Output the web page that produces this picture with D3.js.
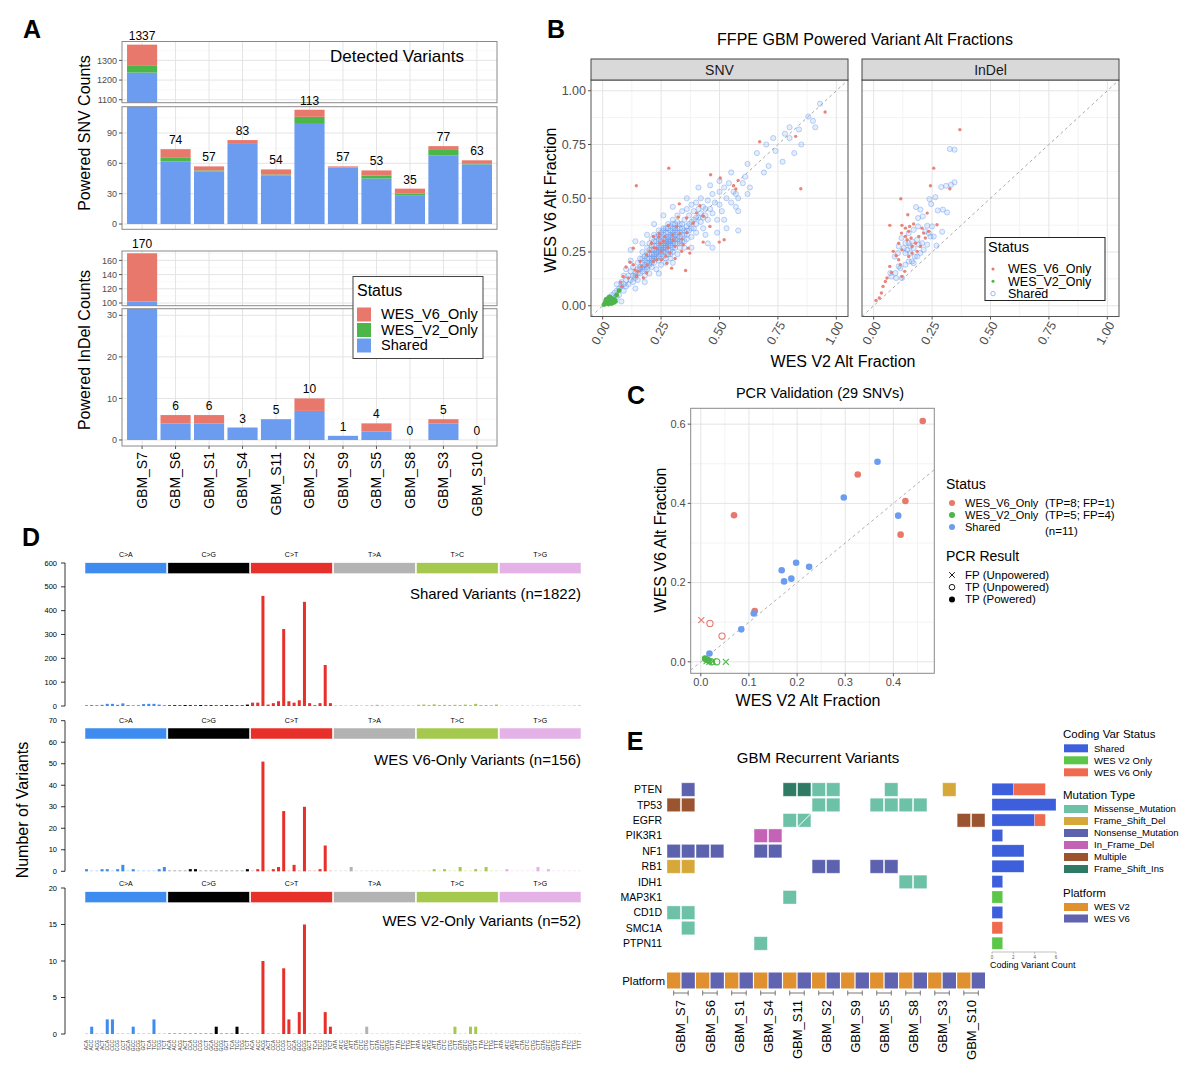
<!DOCTYPE html>
<html>
<head>
<meta charset="utf-8">
<script src="https://cdn.jsdelivr.net/npm/d3@7"></script>
<style>
  body { margin: 0; background: #fff; }
  svg { display: block; font-family: "Liberation Sans", Arial, sans-serif; }
</style>
</head>
<body>
<svg id="fig" width="1200" height="1087"></svg>
<script>
/* ── Panel A: powered variant counts per sample ── */
const samples = ["GBM_S7","GBM_S6","GBM_S1","GBM_S4","GBM_S11","GBM_S2","GBM_S9","GBM_S5","GBM_S8","GBM_S3","GBM_S10"];
const snvShared = [1238, 62, 52, 80, 48, 99, 56, 45, 28, 68, 59];
const snvV2Only = [34, 4, 1, 0, 1, 7, 0, 3, 2, 6, 1];
const snvV6Only = [108, 8, 4, 3, 5, 7, 1, 5, 5, 3, 3];
const snvLabels = [1337, 74, 57, 83, 54, 113, 57, 53, 35, 77, 63];
const indelShared = [102, 4, 4, 3, 5, 7, 1, 2, 0, 4, 0];
const indelV2Only = [0, 0, 0, 0, 0, 0, 0, 0, 0, 0, 0];
const indelV6Only = [68, 2, 2, 0, 0, 3, 0, 2, 0, 1, 0];
const indelLabels = [170, 6, 6, 3, 5, 10, 1, 4, 0, 5, 0];
const statusKeys = ["WES_V6_Only", "WES_V2_Only", "Shared"];
const statusColors = ["#e8786c", "#4cb648", "#6c9cf0"];

/* ── Panel B: alt fractions (WES V2 x, WES V6 y) ── */
const snvV6Pts = [[0.952,0.901],[0.826,0.788],[0.672,0.763],[0.848,0.544],[0.283,0.640],[0.144,0.558],[0.462,0.609],[0.503,0.594],
  [0.580,0.583],[0.560,0.558],[0.570,0.543],[0.328,0.474],[0.416,0.465],[0.499,0.296],[0.520,0.307],[0.430,0.296],[0.355,0.164],
  [0.242,0.335],[0.323,0.412],[0.359,0.408],[0.281,0.374],[0.217,0.322],[0.202,0.253],[0.188,0.237],[0.160,0.206],[0.131,0.268],
  [0.117,0.202],[0.100,0.180],[0.077,0.110],[0.088,0.136],[0.110,0.129],[0.138,0.167],[0.174,0.129],[0.167,0.183],[0.217,0.206],
  [0.252,0.214],[0.288,0.245],[0.302,0.307],[0.330,0.338],[0.345,0.284],[0.366,0.268],[0.373,0.245],[0.295,0.175],[0.274,0.198],
  [0.245,0.291],[0.266,0.322],[0.316,0.369],[0.387,0.384],[0.402,0.431],[0.430,0.416],[0.459,0.369],[0.231,0.268],[0.209,0.291],
  [0.188,0.152],[0.145,0.136],[0.081,0.090],[0.131,0.191],[0.338,0.253],[0.309,0.276],[0.231,0.214],[0.26,0.30],[0.28,0.27],
  [0.30,0.33],[0.25,0.25],[0.22,0.27],[0.34,0.31],[0.27,0.23],[0.31,0.22],[0.19,0.19],[0.15,0.16],[0.36,0.34],[0.24,0.32]];
const snvV2Pts = [[0.01,0.01],[0.012,0.02],[0.015,0.015],[0.018,0.025],[0.02,0.03],[0.022,0.02],[0.025,0.035],[0.028,0.025],
  [0.03,0.03],[0.03,0.015],[0.032,0.04],[0.035,0.02],[0.035,0.035],[0.038,0.028],[0.04,0.018],[0.042,0.032],[0.045,0.025],
  [0.048,0.015],[0.02,0.01],[0.025,0.008],[0.015,0.03],[0.05,0.03],[0.055,0.02],[0.06,0.05],[0.07,0.07],[0.005,0.005],
  [0.028,0.04],[0.038,0.01]];
const snvSharedPts = [[0.04,0.05],[0.05,0.03],[0.06,0.07],[0.07,0.05],[0.08,0.09],[0.08,0.11],[0.09,0.07],[0.10,0.12],[0.10,0.09],
  [0.11,0.14],[0.11,0.10],[0.12,0.16],[0.12,0.12],[0.13,0.11],[0.13,0.18],[0.14,0.15],[0.14,0.13],[0.15,0.20],[0.15,0.17],[0.15,0.12],
  [0.16,0.22],[0.16,0.18],[0.16,0.15],[0.17,0.25],[0.17,0.20],[0.17,0.16],[0.18,0.23],[0.18,0.19],[0.18,0.14],[0.19,0.27],[0.19,0.22],
  [0.19,0.17],[0.20,0.29],[0.20,0.24],[0.20,0.20],[0.20,0.15],[0.21,0.31],[0.21,0.26],[0.21,0.22],[0.21,0.18],[0.22,0.33],[0.22,0.28],
  [0.22,0.24],[0.22,0.20],[0.23,0.30],[0.23,0.26],[0.23,0.22],[0.23,0.17],[0.24,0.35],[0.24,0.29],[0.24,0.25],[0.24,0.21],[0.25,0.32],
  [0.25,0.28],[0.25,0.24],[0.25,0.19],[0.26,0.36],[0.26,0.31],[0.26,0.27],[0.26,0.23],[0.27,0.34],[0.27,0.29],[0.27,0.25],[0.27,0.20],
  [0.28,0.38],[0.28,0.32],[0.28,0.28],[0.28,0.24],[0.29,0.35],[0.29,0.30],[0.29,0.26],[0.29,0.22],[0.30,0.40],[0.30,0.33],[0.30,0.29],
  [0.30,0.25],[0.31,0.36],[0.31,0.31],[0.31,0.27],[0.32,0.42],[0.32,0.34],[0.32,0.29],[0.32,0.24],[0.33,0.38],[0.33,0.32],[0.33,0.27],
  [0.34,0.44],[0.34,0.36],[0.34,0.30],[0.35,0.40],[0.35,0.33],[0.35,0.27],[0.36,0.45],[0.36,0.37],[0.36,0.31],[0.37,0.42],[0.37,0.35],
  [0.38,0.47],[0.38,0.39],[0.38,0.32],[0.39,0.44],[0.39,0.36],[0.40,0.48],[0.40,0.41],[0.40,0.34],[0.41,0.45],[0.42,0.50],[0.42,0.39],
  [0.43,0.46],[0.43,0.36],[0.44,0.42],[0.45,0.49],[0.45,0.40],[0.46,0.45],[0.47,0.52],[0.47,0.43],[0.48,0.48],[0.49,0.40],[0.50,0.53],
  [0.50,0.47],[0.51,0.44],[0.52,0.55],[0.53,0.50],[0.54,0.57],[0.55,0.48],[0.56,0.53],[0.57,0.46],[0.58,0.50],[0.60,0.57],[0.61,0.60],
  [0.62,0.66],[0.63,0.55],[0.66,0.71],[0.69,0.62],[0.70,0.75],[0.71,0.65],[0.73,0.78],[0.74,0.72],[0.77,0.67],[0.78,0.80],[0.80,0.83],
  [0.80,0.78],[0.82,0.71],[0.84,0.82],[0.85,0.75],[0.88,0.88],[0.90,0.86],[0.91,0.83],[0.93,0.94],[0.02,0.03],[0.03,0.04],[0.05,0.06],
  [0.06,0.04],[0.07,0.08],[0.09,0.10],[0.03,0.02],[0.26,0.29],[0.27,0.31],[0.28,0.30],[0.25,0.26],[0.29,0.28],[0.24,0.27],[0.23,0.28],
  [0.30,0.31],[0.26,0.25],[0.28,0.26],[0.27,0.27],[0.31,0.33],[0.22,0.26],[0.25,0.30],[0.29,0.32],[0.32,0.31],[0.24,0.23],[0.21,0.24],
  [0.33,0.34],[0.19,0.20],[0.12,0.26],[0.14,0.30],[0.45,0.29],[0.49,0.34],[0.58,0.35],[0.47,0.27],[0.19,0.33],[0.58,0.44],
  [0.20,0.22],[0.21,0.20],[0.22,0.22],[0.23,0.24],[0.24,0.26],[0.25,0.27],[0.26,0.28],[0.27,0.30],[0.28,0.31],[0.29,0.33],[0.30,0.34],
  [0.31,0.35],[0.32,0.36],[0.33,0.36],[0.34,0.38],[0.24,0.31],[0.25,0.34],[0.26,0.33],[0.27,0.36],[0.28,0.34],[0.29,0.37],[0.30,0.36],
  [0.31,0.38],[0.32,0.39],[0.23,0.25],[0.22,0.23],[0.21,0.21],[0.20,0.19],[0.19,0.18],[0.18,0.17],[0.17,0.18],[0.16,0.17],[0.15,0.15],
  [0.14,0.14],[0.13,0.14],[0.26,0.26],[0.27,0.28],[0.28,0.29],[0.29,0.29],[0.30,0.30],[0.31,0.29],[0.32,0.32],[0.33,0.30],[0.34,0.33],
  [0.35,0.35],[0.36,0.35],[0.37,0.38],[0.38,0.36],[0.39,0.40],[0.40,0.38],[0.41,0.41],[0.42,0.43],[0.43,0.41],[0.44,0.45],[0.25,0.22],
  [0.27,0.22],[0.29,0.24],[0.30,0.27],[0.33,0.29],[0.35,0.30],[0.36,0.33],[0.22,0.30],[0.21,0.28],[0.20,0.26],[0.19,0.24],[0.18,0.21],
  [0.17,0.22],[0.24,0.33],[0.23,0.32],[0.26,0.35],[0.28,0.36],[0.30,0.38],[0.06,0.10],[0.09,0.14],[0.10,0.17],[0.12,0.21],[0.08,0.02],
  [0.14,0.08],[0.18,0.11],[0.24,0.15],[0.30,0.20],[0.38,0.27],[0.44,0.33],[0.52,0.40],[0.53,0.36],[0.41,0.55],[0.36,0.50],[0.30,0.46],
  [0.26,0.42],[0.22,0.38],[0.17,0.29],[0.46,0.56],[0.55,0.62],[0.50,0.58],[0.57,0.52],[0.62,0.52]];
const indelV6Pts = [[0.369,0.819],[0.257,0.640],[0.243,0.558],[0.326,0.544],[0.116,0.498],[0.069,0.374],[0.146,0.423],[0.121,0.374],
  [0.154,0.369],[0.171,0.380],[0.207,0.361],[0.229,0.431],[0.271,0.377],[0.236,0.346],[0.193,0.322],[0.150,0.346],[0.136,0.322],
  [0.107,0.291],[0.084,0.253],[0.121,0.260],[0.164,0.276],[0.186,0.253],[0.150,0.229],[0.107,0.214],[0.114,0.191],[0.133,0.160],
  [0.121,0.136],[0.069,0.183],[0.076,0.155],[0.057,0.129],[0.050,0.113],[0.040,0.090],[0.033,0.059],[0.024,0.036],[0.010,0.025],
  [0.179,0.291],[0.214,0.338],[0.200,0.276],[0.143,0.307],[0.164,0.245],[0.096,0.233],[0.221,0.315],[0.136,0.361],[0.119,0.338],
  [0.160,0.315]];
const indelSharedPts = [[0.326,0.729],[0.346,0.726],[0.346,0.574],[0.310,0.558],[0.289,0.552],[0.331,0.563],[0.264,0.505],[0.239,0.496],
  [0.246,0.473],[0.181,0.459],[0.200,0.447],[0.274,0.443],[0.296,0.447],[0.314,0.434],[0.190,0.408],[0.210,0.416],[0.229,0.372],
  [0.250,0.369],[0.236,0.338],[0.221,0.346],[0.190,0.369],[0.171,0.353],[0.150,0.338],[0.164,0.299],[0.186,0.307],[0.136,0.291],
  [0.157,0.276],[0.119,0.315],[0.129,0.268],[0.107,0.276],[0.104,0.245],[0.090,0.229],[0.136,0.245],[0.150,0.206],[0.171,0.198],
  [0.186,0.229],[0.200,0.245],[0.214,0.260],[0.229,0.284],[0.243,0.322],[0.257,0.322],[0.269,0.279],[0.293,0.344],[0.093,0.152],
  [0.076,0.136],[0.071,0.152],[0.114,0.175],[0.136,0.191],[0.121,0.129],[0.096,0.129],[0.107,0.183],[0.164,0.206],[0.176,0.229],
  [0.207,0.291],[0.143,0.260],[0.157,0.245],[0.171,0.268],[0.193,0.284],[0.150,0.291]];

/* ── Panel C: PCR validation, [v2 AF, v6 AF, status, PCR result] ── */
const pcrPoints = [
  [0.461,0.608,"WES_V6_Only","TP (Powered)"],[0.326,0.473,"WES_V6_Only","TP (Powered)"],
  [0.425,0.406,"WES_V6_Only","TP (Powered)"],[0.415,0.321,"WES_V6_Only","TP (Powered)"],
  [0.069,0.370,"WES_V6_Only","TP (Powered)"],[0.112,0.128,"WES_V6_Only","TP (Powered)"],
  [0.019,0.097,"WES_V6_Only","TP (Unpowered)"],[0.044,0.065,"WES_V6_Only","TP (Unpowered)"],
  [0.001,0.105,"WES_V6_Only","FP (Unpowered)"],
  [0.367,0.505,"Shared","TP (Powered)"],[0.297,0.415,"Shared","TP (Powered)"],[0.410,0.369,"Shared","TP (Powered)"],
  [0.198,0.250,"Shared","TP (Powered)"],[0.225,0.240,"Shared","TP (Powered)"],[0.168,0.231,"Shared","TP (Powered)"],
  [0.173,0.203,"Shared","TP (Powered)"],[0.188,0.210,"Shared","TP (Powered)"],[0.110,0.122,"Shared","TP (Powered)"],
  [0.084,0.082,"Shared","TP (Powered)"],[0.018,0.021,"Shared","TP (Powered)"],
  [0.009,0.008,"WES_V2_Only","TP (Powered)"],[0.013,0.005,"WES_V2_Only","TP (Powered)"],
  [0.016,0.003,"WES_V2_Only","TP (Powered)"],[0.022,0.000,"WES_V2_Only","TP (Unpowered)"],
  [0.033,0.000,"WES_V2_Only","TP (Unpowered)"],[0.052,0.000,"WES_V2_Only","FP (Unpowered)"],
  [0.018,0.000,"WES_V2_Only","FP (Unpowered)"],[0.025,0.001,"WES_V2_Only","FP (Unpowered)"],
  [0.012,0.002,"WES_V2_Only","FP (Unpowered)"]];
const pcrResults = ["FP (Unpowered)", "TP (Unpowered)", "TP (Powered)"];
const pcrStatusNotes = ["(TP=8; FP=1)", "(TP=5; FP=4)", "(n=11)"];

/* ── Panel D: trinucleotide spectra (96 contexts, 16 per class) ── */
const mutClasses = ["C>A","C>G","C>T","T>A","T>C","T>G"];
const mutClassColors = ["#3e8cf0","#000000","#e8302a","#b3b3b3","#a5c94f","#e4b2e6"];
const flank5 = ["A","A","A","A","C","C","C","C","G","G","G","G","T","T","T","T"];
const flank3 = ["A","C","G","T","A","C","G","T","A","C","G","T","A","C","G","T"];
const sharedSpectrum = [
  3,4,3,5,9,9,5,11,4,2,3,8,9,9,6,3,
  2,3,2,4,3,2,4,2,3,2,2,3,3,2,2,6,
  14,14,462,6,12,20,323,20,14,24,437,12,3,12,172,12,
  1,2,1,2,2,1,2,3,5,2,1,2,1,2,2,1,
  5,6,4,7,4,5,4,5,4,6,3,9,4,4,3,6,
  1,1,2,1,2,1,1,1,2,1,1,1,2,1,2,3];
const v6OnlySpectrum = [
  1,0,0,1,1,0,1,3,0,1,0,0,0,0,1,2,
  0,0,0,0,1,1,0,0,0,0,0,0,0,0,0,1,
  0,1,51,0,1,2,28,0,3,0,30,0,0,1,12,0,
  0,0,0,2,0,0,0,0,0,0,0,0,0,0,0,0,
  0,0,0,1,0,1,0,0,2,0,0,1,0,2,0,0,
  0,1,0,0,0,0,0,2,0,1,0,0,0,0,0,0];
const v2OnlySpectrum = [
  0,1,0,0,2,2,0,0,0,1,0,0,0,2,0,0,
  0,0,0,0,0,0,0,0,0,1,0,0,0,1,0,0,
  0,0,10,0,0,0,9,2,0,3,15,0,0,0,3,1,
  0,0,0,0,0,0,1,0,0,0,0,0,0,0,0,0,
  0,0,0,0,0,0,0,1,0,0,1,1,0,0,0,0,
  0,0,0,0,0,0,0,0,0,0,0,0,0,0,0,0];

/* ── Panel E: recurrent variant tiles ── */
const genes = ["PTEN","TP53","EGFR","PIK3R1","NF1","RB1","IDH1","MAP3K1","CD1D","SMC1A","PTPN11"];
const mutTypes = ["Missense_Mutation","Frame_Shift_Del","Nonsense_Mutation","In_Frame_Del","Multiple","Frame_Shift_Ins"];
const mutColors = ["#6cc1a6","#d6a83a","#5d62ae","#c462b5","#9b5430","#2f7a64"];
const platforms = ["WES V2","WES V6"];
const platformColors = ["#e0902e","#5f63b0"];
// gene, sample, platform index (0 = V2, 1 = V6), mutation type
const variantCells = [
  ["PTEN","GBM_S7",1,"Nonsense_Mutation"],["PTEN","GBM_S11",0,"Frame_Shift_Ins"],["PTEN","GBM_S11",1,"Frame_Shift_Ins"],
  ["PTEN","GBM_S2",0,"Missense_Mutation"],["PTEN","GBM_S2",1,"Missense_Mutation"],["PTEN","GBM_S5",1,"Missense_Mutation"],
  ["PTEN","GBM_S3",1,"Frame_Shift_Del"],
  ["TP53","GBM_S7",0,"Multiple"],["TP53","GBM_S7",1,"Multiple"],["TP53","GBM_S2",0,"Missense_Mutation"],
  ["TP53","GBM_S2",1,"Missense_Mutation"],["TP53","GBM_S5",0,"Missense_Mutation"],["TP53","GBM_S5",1,"Missense_Mutation"],
  ["TP53","GBM_S8",0,"Missense_Mutation"],["TP53","GBM_S8",1,"Missense_Mutation"],
  ["EGFR","GBM_S11",0,"Missense_Mutation"],["EGFR","GBM_S11",1,"Missense_Mutation"],
  ["EGFR","GBM_S10",0,"Multiple"],["EGFR","GBM_S10",1,"Multiple"],
  ["PIK3R1","GBM_S4",0,"In_Frame_Del"],["PIK3R1","GBM_S4",1,"In_Frame_Del"],
  ["NF1","GBM_S7",0,"Nonsense_Mutation"],["NF1","GBM_S7",1,"Nonsense_Mutation"],["NF1","GBM_S6",0,"Nonsense_Mutation"],
  ["NF1","GBM_S6",1,"Nonsense_Mutation"],["NF1","GBM_S4",0,"Nonsense_Mutation"],["NF1","GBM_S4",1,"Nonsense_Mutation"],
  ["RB1","GBM_S7",0,"Frame_Shift_Del"],["RB1","GBM_S7",1,"Frame_Shift_Del"],["RB1","GBM_S2",0,"Nonsense_Mutation"],
  ["RB1","GBM_S2",1,"Nonsense_Mutation"],["RB1","GBM_S5",0,"Nonsense_Mutation"],["RB1","GBM_S5",1,"Nonsense_Mutation"],
  ["IDH1","GBM_S8",0,"Missense_Mutation"],["IDH1","GBM_S8",1,"Missense_Mutation"],
  ["MAP3K1","GBM_S11",0,"Missense_Mutation"],
  ["CD1D","GBM_S7",0,"Missense_Mutation"],["CD1D","GBM_S7",1,"Missense_Mutation"],
  ["SMC1A","GBM_S7",1,"Missense_Mutation"],
  ["PTPN11","GBM_S4",0,"Missense_Mutation"]];
const splitCells = [["EGFR","GBM_S11",1]];
const codingShared = [2, 6, 4, 1, 3, 3, 1, 0, 1, 0, 0];
const codingV2Only = [0, 0, 0, 0, 0, 0, 0, 1, 0, 0, 1];
const codingV6Only = [3, 0, 1, 0, 0, 0, 0, 0, 0, 1, 0];
const codingStatus = ["Shared", "WES V2 Only", "WES V6 Only"];
const codingColors = ["#3d5fdc", "#5cc64a", "#ef6a4f"];
const countTicks = [0, 2, 4, 6];

const svg = d3.select("#fig");

function label(g, x, y, s, o = {}) {
  const t = g.append("text").attr("x", x).attr("y", y).text(s)
    .attr("font-size", o.size || 12).attr("fill", o.fill || "#000")
    .attr("text-anchor", o.anchor || "start");
  if (o.weight) t.attr("font-weight", o.weight);
  if (o.dy) t.attr("dy", o.dy);
  if (o.rotate) t.attr("transform", `rotate(${o.rotate},${x},${y})`);
  return t;
}

// panel letters
[["A",32,38],["B",556,38],["C",636,404],["D",31,546],["E",635,750]].forEach(([s,x,y]) =>
  label(svg, x, y, s, {size: 25, weight: "bold", anchor: "middle"}));

/* ================= Panel A ================= */
const xA = d3.scaleBand().domain(samples).range([122, 497]).paddingInner(0.1).paddingOuter(0.15);
const keyColor = {shared: statusColors[2], v2: statusColors[1], v6: statusColors[0]};
const stackA = d3.stack().keys(["shared", "v2", "v6"]);

function rowsOf(sh, v2, v6) {
  return samples.map((s, i) => ({sample: s, shared: sh[i], v2: v2[i], v6: v6[i]}));
}

function facetA(y, ticks, minor, layers, id) {
  const g = svg.append("g");
  const [xl, xr] = xA.range(), [yb, yt] = y.range();
  g.selectAll(null).data(minor).join("line")
    .attr("x1", xl).attr("x2", xr).attr("y1", d => y(d)).attr("y2", d => y(d))
    .attr("stroke", "#f3f3f3").attr("stroke-width", 0.6);
  g.selectAll(null).data(ticks).join("line")
    .attr("x1", xl).attr("x2", xr).attr("y1", d => y(d)).attr("y2", d => y(d))
    .attr("stroke", "#e4e4e4").attr("stroke-width", 1);
  g.selectAll(null).data(samples).join("line")
    .attr("x1", d => xA(d) + xA.bandwidth() / 2).attr("x2", d => xA(d) + xA.bandwidth() / 2)
    .attr("y1", yt).attr("y2", yb).attr("stroke", "#e4e4e4");
  g.append("clipPath").attr("id", id).append("rect")
    .attr("x", xl).attr("y", yt).attr("width", xr - xl).attr("height", yb - yt);
  const bars = g.append("g").attr("clip-path", `url(#${id})`);
  layers.forEach(layer => {
    bars.selectAll(null).data(layer).join("rect")
      .attr("x", d => xA(d.data.sample)).attr("width", xA.bandwidth())
      .attr("y", d => y(d[1])).attr("height", d => Math.max(0, y(d[0]) - y(d[1])))
      .attr("fill", keyColor[layer.key]);
  });
  g.append("rect").attr("x", xl).attr("y", yt).attr("width", xr - xl).attr("height", yb - yt)
    .attr("fill", "none").attr("stroke", "#8a8a8a").attr("stroke-width", 1);
  g.selectAll(null).data(ticks).join("line")
    .attr("x1", xl - 3).attr("x2", xl).attr("y1", d => y(d)).attr("y2", d => y(d)).attr("stroke", "#555");
  g.selectAll(null).data(ticks).join("text")
    .attr("x", xl - 5).attr("y", d => y(d)).attr("dy", "0.35em").attr("text-anchor", "end")
    .attr("font-size", 9).attr("fill", "#4d4d4d").text(d => d);
}

function totalsA(layers, labels, lower, upper) {
  const top = layers[layers.length - 1];
  svg.append("g").selectAll("text").data(top).join("text")
    .attr("x", d => xA(d.data.sample) + xA.bandwidth() / 2)
    .attr("y", d => (d[1] > lower.domain()[1] ? upper(d[1]) : lower(d[1])) - 5)
    .attr("text-anchor", "middle").attr("font-size", 12).text((d, i) => labels[i]);
}

const snvLayers = stackA(rowsOf(snvShared, snvV2Only, snvV6Only));
const snvUpper = d3.scaleLinear().domain([1085, 1396]).range([102.7, 41.5]);
const snvLower = d3.scaleLinear().domain([-5.2, 116]).range([229.3, 106.7]);
facetA(snvUpper, [1100, 1200, 1300], [1150, 1250, 1350], snvLayers, "clipSnvU");
facetA(snvLower, [0, 30, 60, 90], [15, 45, 75, 105], snvLayers, "clipSnvL");
totalsA(snvLayers, snvLabels, snvLower, snvUpper);

const indelLayers = stackA(rowsOf(indelShared, indelV2Only, indelV6Only));
const indelUpper = d3.scaleLinear().domain([96.2, 173.2]).range([305.7, 251]);
const indelLower = d3.scaleLinear().domain([-1.45, 31.6]).range([446, 308.7]);
facetA(indelUpper, [100, 120, 140, 160], [110, 130, 150, 170], indelLayers, "clipIndU");
facetA(indelLower, [0, 10, 20, 30], [5, 15, 25], indelLayers, "clipIndL");
totalsA(indelLayers, indelLabels, indelLower, indelUpper);

label(svg, 397, 62, "Detected Variants", {size: 17, anchor: "middle"});
label(svg, 90, 133, "Powered SNV Counts", {size: 16, anchor: "middle", rotate: -90});
label(svg, 90, 350, "Powered InDel Counts", {size: 16, anchor: "middle", rotate: -90});

// sample ticks and names under the InDel panel
svg.append("g").selectAll("line").data(samples).join("line")
  .attr("x1", d => xA(d) + xA.bandwidth() / 2).attr("x2", d => xA(d) + xA.bandwidth() / 2)
  .attr("y1", 446).attr("y2", 449).attr("stroke", "#555");
svg.append("g").selectAll("text").data(samples).join("text")
  .attr("transform", d => `translate(${xA(d) + xA.bandwidth() / 2},452) rotate(-90)`)
  .attr("dy", "0.35em").attr("text-anchor", "end").attr("font-size", 14).text(d => d);

// legend A
{
  const g = svg.append("g");
  g.append("rect").attr("x", 353).attr("y", 276.5).attr("width", 130).attr("height", 82)
    .attr("fill", "#fff").attr("stroke", "#444");
  label(g, 357, 296, "Status", {size: 16});
  statusKeys.forEach((k, i) => {
    g.append("rect").attr("x", 357).attr("y", 307.5 + i * 15.5).attr("width", 14).attr("height", 14)
      .attr("fill", statusColors[i]);
    label(g, 381, 319 + i * 15.5, k, {size: 14.5});
  });
}

/* ================= Panel B ================= */
const yB = d3.scaleLinear().domain([-0.05, 1.05]).range([316.5, 80]);
const afTicks = [0, 0.25, 0.5, 0.75, 1];
const afMinor = [0.125, 0.375, 0.625, 0.875];

function scatterB(xs, strip, id, layers, showY) {
  const g = svg.append("g");
  const [xl, xr] = xs.range(), [yb, yt] = yB.range();
  afMinor.forEach(v => {
    g.append("line").attr("x1", xl).attr("x2", xr).attr("y1", yB(v)).attr("y2", yB(v)).attr("stroke", "#f3f3f3");
    g.append("line").attr("x1", xs(v)).attr("x2", xs(v)).attr("y1", yt).attr("y2", yb).attr("stroke", "#f3f3f3");
  });
  afTicks.forEach(v => {
    g.append("line").attr("x1", xl).attr("x2", xr).attr("y1", yB(v)).attr("y2", yB(v)).attr("stroke", "#e4e4e4");
    g.append("line").attr("x1", xs(v)).attr("x2", xs(v)).attr("y1", yt).attr("y2", yb).attr("stroke", "#e4e4e4");
  });
  g.append("clipPath").attr("id", id).append("rect")
    .attr("x", xl).attr("y", yt).attr("width", xr - xl).attr("height", yb - yt);
  const plot = g.append("g").attr("clip-path", `url(#${id})`);
  plot.append("line").attr("x1", xs(-0.05)).attr("y1", yB(-0.05)).attr("x2", xs(1.05)).attr("y2", yB(1.05))
    .attr("stroke", "#a8a8a8").attr("stroke-dasharray", "3,3");
  layers.forEach(({pts, kind}) => {
    const c = plot.append("g").selectAll("circle").data(pts).join("circle")
      .attr("cx", d => xs(d[0])).attr("cy", d => yB(d[1]));
    if (kind === "shared") c.attr("r", 2.6).attr("fill", statusColors[2]).attr("fill-opacity", 0.18)
      .attr("stroke", statusColors[2]).attr("stroke-opacity", 0.55).attr("stroke-width", 0.8);
    else if (kind === "v6") c.attr("r", 1.7).attr("fill", statusColors[0]).attr("fill-opacity", 0.9);
    else c.attr("r", 2.4).attr("fill", statusColors[1]);
  });
  g.append("rect").attr("x", xl).attr("y", yt).attr("width", xr - xl).attr("height", yb - yt)
    .attr("fill", "none").attr("stroke", "#555");
  g.append("rect").attr("x", xl).attr("y", 59).attr("width", xr - xl).attr("height", yt - 59)
    .attr("fill", "#d9d9d9").attr("stroke", "#444");
  label(g, (xl + xr) / 2, 75, strip, {size: 14, anchor: "middle", fill: "#1a1a1a"});
  afTicks.forEach(v => {
    g.append("line").attr("x1", xs(v)).attr("x2", xs(v)).attr("y1", yb).attr("y2", yb + 3).attr("stroke", "#555");
    g.append("text").attr("transform", `translate(${xs(v) + 4},${yb + 6}) rotate(-60)`)
      .attr("dy", "0.35em").attr("text-anchor", "end").attr("font-size", 12.5).attr("fill", "#4d4d4d")
      .text(d3.format(".2f")(v));
    if (showY) {
      g.append("line").attr("x1", xl - 3).attr("x2", xl).attr("y1", yB(v)).attr("y2", yB(v)).attr("stroke", "#555");
      g.append("text").attr("x", xl - 5).attr("y", yB(v)).attr("dy", "0.35em").attr("text-anchor", "end")
        .attr("font-size", 12.5).attr("fill", "#4d4d4d").text(d3.format(".2f")(v));
    }
  });
}

const xSnv = d3.scaleLinear().domain([-0.05, 1.05]).range([591, 848]);
const xInd = d3.scaleLinear().domain([-0.05, 1.05]).range([862, 1119]);
scatterB(xSnv, "SNV", "clipB1",
  [{pts: snvSharedPts, kind: "shared"}, {pts: snvV6Pts, kind: "v6"}, {pts: snvV2Pts, kind: "v2"}], true);
scatterB(xInd, "InDel", "clipB2",
  [{pts: indelSharedPts, kind: "shared"}, {pts: indelV6Pts, kind: "v6"}], false);

label(svg, 865, 45, "FFPE GBM Powered Variant Alt Fractions", {size: 16, anchor: "middle"});
label(svg, 556, 200, "WES V6 Alt Fraction", {size: 16, anchor: "middle", rotate: -90});
label(svg, 843, 367, "WES V2 Alt Fraction", {size: 16, anchor: "middle"});

// legend B
{
  const g = svg.append("g");
  g.append("rect").attr("x", 985).attr("y", 237.5).attr("width", 120).attr("height", 63)
    .attr("fill", "#fff").attr("stroke", "#222");
  label(g, 988, 252, "Status", {size: 14.5});
  const kinds = ["v6", "v2", "shared"];
  kinds.forEach((k, i) => {
    const cy = 269 + i * 12.3;
    const c = g.append("circle").attr("cx", 993).attr("cy", cy);
    if (k === "shared") c.attr("r", 2.2).attr("fill", "none").attr("stroke", statusColors[2]).attr("stroke-opacity", 0.7);
    else c.attr("r", 1.5).attr("fill", statusColors[i]);
    label(g, 1008, cy, statusKeys[i], {size: 12.5, dy: "0.35em"});
  });
}

/* ================= Panel C ================= */
{
  const xC = d3.scaleLinear().domain([-0.021, 0.485]).range([690.7, 934.3]);
  const yC = d3.scaleLinear().domain([-0.029, 0.64]).range([673.3, 408.3]);
  const g = svg.append("g");
  const [xl, xr] = xC.range(), [yb, yt] = yC.range();
  const xt = [0, 0.1, 0.2, 0.3, 0.4], yt2 = [0, 0.2, 0.4, 0.6];
  [0.05, 0.15, 0.25, 0.35, 0.45].forEach(v =>
    g.append("line").attr("x1", xC(v)).attr("x2", xC(v)).attr("y1", yt).attr("y2", yb).attr("stroke", "#f3f3f3"));
  [0.1, 0.3, 0.5].forEach(v =>
    g.append("line").attr("x1", xl).attr("x2", xr).attr("y1", yC(v)).attr("y2", yC(v)).attr("stroke", "#f3f3f3"));
  xt.forEach(v => g.append("line").attr("x1", xC(v)).attr("x2", xC(v)).attr("y1", yt).attr("y2", yb).attr("stroke", "#e4e4e4"));
  yt2.forEach(v => g.append("line").attr("x1", xl).attr("x2", xr).attr("y1", yC(v)).attr("y2", yC(v)).attr("stroke", "#e4e4e4"));
  g.append("clipPath").attr("id", "clipC").append("rect").attr("x", xl).attr("y", yt).attr("width", xr - xl).attr("height", yb - yt);
  const plot = g.append("g").attr("clip-path", "url(#clipC)");
  plot.append("line").attr("x1", xC(-0.05)).attr("y1", yC(-0.05)).attr("x2", xC(0.7)).attr("y2", yC(0.7))
    .attr("stroke", "#b0b0b0").attr("stroke-dasharray", "3,3");
  const col = s => statusColors[statusKeys.indexOf(s)];
  const cross = a => `M${-a},${-a}L${a},${a}M${-a},${a}L${a},${-a}`;
  pcrPoints.forEach(([vx, vy, st, res]) => {
    const px = xC(vx), py = yC(vy);
    if (res === "TP (Powered)") plot.append("circle").attr("cx", px).attr("cy", py).attr("r", 3.3).attr("fill", col(st));
    else if (res === "TP (Unpowered)") plot.append("circle").attr("cx", px).attr("cy", py).attr("r", 3.1)
      .attr("fill", "none").attr("stroke", col(st)).attr("stroke-width", 1.1);
    else plot.append("path").attr("transform", `translate(${px},${py})`).attr("d", cross(3))
      .attr("stroke", col(st)).attr("stroke-width", 1.1);
  });
  g.append("rect").attr("x", xl).attr("y", yt).attr("width", xr - xl).attr("height", yb - yt)
    .attr("fill", "none").attr("stroke", "#8a8a8a");
  xt.forEach(v => {
    g.append("line").attr("x1", xC(v)).attr("x2", xC(v)).attr("y1", yb).attr("y2", yb + 3).attr("stroke", "#555");
    label(g, xC(v), yb + 13, d3.format(".1f")(v), {size: 11, anchor: "middle", fill: "#4d4d4d"});
  });
  yt2.forEach(v => {
    g.append("line").attr("x1", xl - 3).attr("x2", xl).attr("y1", yC(v)).attr("y2", yC(v)).attr("stroke", "#555");
    label(g, xl - 5, yC(v), d3.format(".1f")(v), {size: 11, anchor: "end", fill: "#4d4d4d", dy: "0.35em"});
  });
  label(svg, 820, 398, "PCR Validation (29 SNVs)", {size: 14.5, anchor: "middle"});
  label(svg, 666, 540, "WES V6 Alt Fraction", {size: 16, anchor: "middle", rotate: -90});
  label(svg, 808, 706, "WES V2 Alt Fraction", {size: 16, anchor: "middle"});

  // legend C
  label(svg, 946, 489, "Status", {size: 14});
  statusKeys.forEach((k, i) => {
    const cy = 503 + i * 12;
    svg.append("circle").attr("cx", 952).attr("cy", cy).attr("r", 3).attr("fill", statusColors[i]);
    label(svg, 965, cy, k, {size: 11, dy: "0.35em"});
    label(svg, 1045, cy + (i === 2 ? 4 : 0), pcrStatusNotes[i], {size: 11.5, dy: "0.35em"});
  });
  label(svg, 946, 561, "PCR Result", {size: 14});
  pcrResults.forEach((r, i) => {
    const cy = 575 + i * 12.2;
    if (i === 0) svg.append("path").attr("transform", `translate(952,${cy})`).attr("d", cross(2.8))
      .attr("stroke", "#000").attr("stroke-width", 0.9);
    else if (i === 1) svg.append("circle").attr("cx", 952).attr("cy", cy).attr("r", 2.8)
      .attr("fill", "none").attr("stroke", "#000").attr("stroke-width", 0.9);
    else svg.append("circle").attr("cx", 952).attr("cy", cy).attr("r", 3).attr("fill", "#000");
    label(svg, 965, cy, r, {size: 11.5, dy: "0.35em"});
  });
}

/* ================= Panel D ================= */
const contexts = mutClasses.flatMap(m => flank5.map((f, i) => f + m[0] + flank3[i]));
const xD = d3.scaleBand().domain(d3.range(96)).range([85, 581]).paddingInner(0.42);
const hD = d3.scaleBand().domain(mutClasses).range([85, 581]).paddingInner(0.015);

function spectrum(vals, y, ticks, title, titleY, headTop, showContexts) {
  const g = svg.append("g");
  g.selectAll(null).data(mutClasses).join("rect")
    .attr("x", d => hD(d)).attr("width", hD.bandwidth()).attr("y", headTop).attr("height", 11)
    .attr("fill", (d, i) => mutClassColors[i]).attr("stroke", "#fff").attr("stroke-width", 0.5);
  g.selectAll(null).data(mutClasses).join("text")
    .attr("x", d => hD(d) + hD.bandwidth() / 2).attr("y", headTop - 5.5)
    .attr("text-anchor", "middle").attr("font-size", 7).text(d => d);
  // faint baseline marks for empty contexts
  g.selectAll(null).data(vals).join("rect")
    .attr("x", (d, i) => xD(i)).attr("width", xD.bandwidth()).attr("y", y(0) - 1).attr("height", 1)
    .attr("fill", (d, i) => mutClassColors[Math.floor(i / 16)]).attr("opacity", 0.3);
  g.selectAll(null).data(vals).join("rect")
    .attr("x", (d, i) => xD(i)).attr("width", xD.bandwidth())
    .attr("y", d => y(d)).attr("height", d => y(0) - y(d))
    .attr("fill", (d, i) => mutClassColors[Math.floor(i / 16)]);
  const [y0, y1] = y.range();
  g.append("line").attr("x1", 65).attr("x2", 65).attr("y1", y0).attr("y2", y1).attr("stroke", "#000").attr("stroke-width", 0.8);
  g.selectAll(null).data(ticks).join("line")
    .attr("x1", 61).attr("x2", 65).attr("y1", d => y(d)).attr("y2", d => y(d)).attr("stroke", "#000").attr("stroke-width", 0.8);
  g.selectAll(null).data(ticks).join("text")
    .attr("x", 57).attr("y", d => y(d)).attr("dy", "0.35em").attr("text-anchor", "end")
    .attr("font-size", 7.5).text(d => d);
  label(g, 581, titleY, title, {size: 15, anchor: "end"});
  if (showContexts) {
    g.selectAll(null).data(contexts).join("text")
      .attr("transform", (d, i) => `translate(${xD(i) + xD.bandwidth() / 2},1040) rotate(-90)`)
      .attr("dy", "0.35em").attr("text-anchor", "end").attr("font-size", 5).attr("fill", "#333").text(d => d);
  }
}

spectrum(sharedSpectrum, d3.scaleLinear().domain([0, 600]).range([706, 563]), d3.range(0, 601, 100),
  "Shared Variants (n=1822)", 599, 562.7, false);
spectrum(v6OnlySpectrum, d3.scaleLinear().domain([0, 70]).range([871.3, 720.7]), d3.range(0, 71, 10),
  "WES V6-Only Variants (n=156)", 765, 728, false);
spectrum(v2OnlySpectrum, d3.scaleLinear().domain([0, 20]).range([1034, 888]), d3.range(0, 21, 5),
  "WES V2-Only Variants (n=52)", 926, 891.7, true);
label(svg, 28, 810, "Number of Variants", {size: 16, anchor: "middle", rotate: -90});

/* ================= Panel E ================= */
{
  const xE = d3.scaleBand().domain(d3.range(22)).range([667, 985]).paddingInner(0.08);
  const yE = d3.scaleBand().domain(genes).range([782, 951]).paddingInner(0.12).paddingOuter(0.05);
  const colOf = (s, p) => samples.indexOf(s) * 2 + p;
  const g = svg.append("g");
  label(svg, 818, 763, "GBM Recurrent Variants", {size: 15, anchor: "middle"});

  g.selectAll(null).data(genes).join("text")
    .attr("x", 662).attr("y", d => yE(d) + yE.bandwidth() / 2).attr("dy", "0.35em")
    .attr("text-anchor", "end").attr("font-size", 10.5).text(d => d);
  g.selectAll(null).data(variantCells).join("rect")
    .attr("x", d => xE(colOf(d[1], d[2]))).attr("width", xE.bandwidth())
    .attr("y", d => yE(d[0])).attr("height", yE.bandwidth())
    .attr("fill", d => mutColors[mutTypes.indexOf(d[3])])
    .attr("stroke", "#ffffff").attr("stroke-opacity", 0.5).attr("stroke-width", 0.8);
  g.selectAll(null).data(splitCells).join("line")
    .attr("x1", d => xE(colOf(d[1], d[2]))).attr("x2", d => xE(colOf(d[1], d[2])) + xE.bandwidth())
    .attr("y1", d => yE(d[0]) + yE.bandwidth()).attr("y2", d => yE(d[0]))
    .attr("stroke", "#fff").attr("stroke-width", 1);

  // coding variant count bars
  const xc = d3.scaleLinear().domain([0, 6]).range([992, 1056]);
  const rows = genes.map((gname, i) => ({gene: gname, a: codingShared[i], b: codingV2Only[i], c: codingV6Only[i]}));
  const layers = d3.stack().keys(["a", "b", "c"])(rows);
  layers.forEach((layer, k) => {
    g.selectAll(null).data(layer.filter(d => d[1] > d[0])).join("rect")
      .attr("x", d => xc(d[0])).attr("width", d => xc(d[1]) - xc(d[0]))
      .attr("y", d => yE(d.data.gene) + 0.5).attr("height", yE.bandwidth() - 1.5)
      .attr("fill", codingColors[k]).attr("stroke", "#fff").attr("stroke-opacity", 0.4).attr("stroke-width", 0.6);
  });
  g.append("line").attr("x1", xc(0)).attr("x2", xc(6)).attr("y1", 952).attr("y2", 952).attr("stroke", "#999").attr("stroke-width", 0.6);
  g.selectAll(null).data(countTicks).join("line")
    .attr("x1", d => xc(d)).attr("x2", d => xc(d)).attr("y1", 952).attr("y2", 954).attr("stroke", "#999").attr("stroke-width", 0.6);
  g.selectAll(null).data(countTicks).join("text")
    .attr("x", d => xc(d)).attr("y", 959).attr("text-anchor", "middle").attr("font-size", 4.5).attr("fill", "#555").text(d => d);
  label(g, 990, 968, "Coding Variant Count", {size: 9});

  // platform track
  g.selectAll(null).data(d3.range(22)).join("rect")
    .attr("x", d => xE(d)).attr("width", xE.bandwidth()).attr("y", 972.5).attr("height", 16)
    .attr("fill", d => platformColors[d % 2]);
  label(g, 665, 981, "Platform", {size: 11.5, anchor: "end", dy: "0.35em"});

  // sample brackets and names
  samples.forEach((s, i) => {
    const a = xE(i * 2) + xE.bandwidth() / 2, b = xE(i * 2 + 1) + xE.bandwidth() / 2;
    g.append("path").attr("d", `M${a},990.5V995.5M${a},993H${b}M${b},990.5V995.5`)
      .attr("stroke", "#555").attr("fill", "none").attr("stroke-width", 0.8);
    g.append("text").attr("transform", `translate(${(a + b) / 2},1000) rotate(-90)`)
      .attr("dy", "0.35em").attr("text-anchor", "end").attr("font-size", 13).text(s);
  });

  // legend E
  const sw = (y, c) => svg.append("rect").attr("x", 1064).attr("y", y - 4).attr("width", 24).attr("height", 8).attr("fill", c);
  label(svg, 1063, 738, "Coding Var Status", {size: 11.5});
  codingStatus.forEach((s, i) => { sw(748.3 + i * 12, codingColors[i]); label(svg, 1094, 748.3 + i * 12, s, {size: 9.5, dy: "0.35em"}); });
  label(svg, 1063, 799, "Mutation Type", {size: 11.5});
  mutTypes.forEach((m, i) => { sw(809 + i * 12, mutColors[i]); label(svg, 1094, 809 + i * 12, m, {size: 9.5, dy: "0.35em"}); });
  label(svg, 1063, 897, "Platform", {size: 11.5});
  platforms.forEach((p, i) => { sw(907 + i * 11.5, platformColors[i]); label(svg, 1094, 907 + i * 11.5, p, {size: 9.5, dy: "0.35em"}); });
}
</script>
</body>
</html>
